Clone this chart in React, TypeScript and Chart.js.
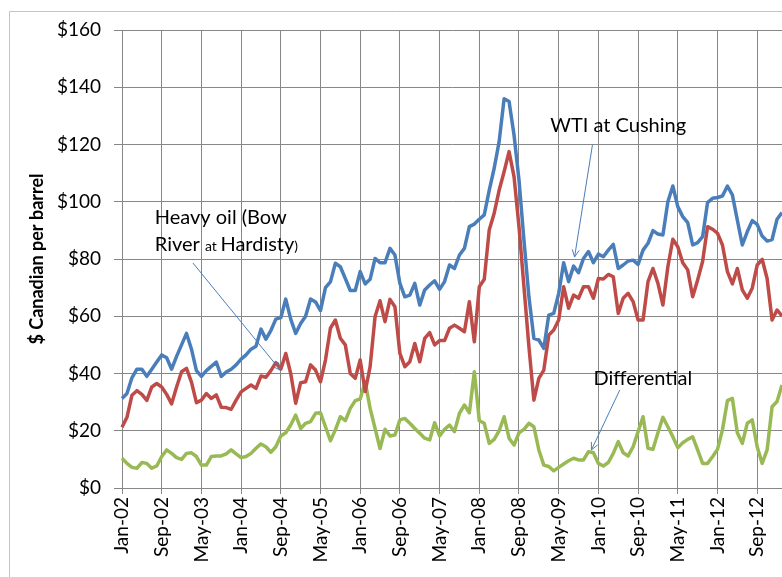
import React, { useEffect, useRef } from "react";
import { Chart, registerables } from "chart.js";

Chart.register(...registerables);

const MONTH_NAMES = ["Jan", "Feb", "Mar", "Apr", "May", "Jun", "Jul", "Aug", "Sep", "Oct", "Nov", "Dec"];
const FIRST_YEAR = 2002;
const MONTH_COUNT = 134;
const CATEGORIES = Array.from({ length: MONTH_COUNT }, (_, i) =>
  `${MONTH_NAMES[i % 12]}-${String((FIRST_YEAR + Math.floor(i / 12)) % 100).padStart(2, "0")}`
);

const TICK_LABELS = [
  "Jan-02", "Sep-02", "May-03", "Jan-04", "Sep-04", "May-05", "Jan-06", "Sep-06", "May-07",
  "Jan-08", "Sep-08", "May-09", "Jan-10", "Sep-10", "May-11", "Jan-12", "Sep-12",
];

const Y_TICKS = [0, 20, 40, 60, 80, 100, 120, 140, 160];

const WTI = [
  31.3, 33, 38.5, 41.5, 41.5, 39, 41.5, 44, 46.5, 45.5, 41.5, 46,
  50, 54, 48.5, 41, 39, 41, 42.5, 44, 39, 40.5, 41.5, 43,
  45, 46.5, 48.5, 49.5, 55.5, 52, 55, 59, 59.5, 66, 59, 54,
  57.5, 60, 66, 65, 62, 70, 72, 78.5, 77.3, 73.2, 69, 69,
  75.6, 71.3, 72.9, 80.2, 78.7, 78.7, 83.7, 81.4, 71.5, 66.8, 67.4, 71.5,
  63.9, 69.2, 70.9, 72.4, 69.4, 72.1, 77.9, 76.7, 81.4, 83.7, 91.3, 92.2,
  93.9, 95.4, 104, 111.7, 121, 136, 135, 123.3, 107.6, 86.6, 66.8, 52.3,
  51.7, 48.8, 60.4, 61, 68, 78.7, 72.1, 77.5, 75.2, 80.2, 82.6, 78.7,
  81.7, 80.8, 83.1, 85.1, 76.7, 77.9, 79.3, 79.6, 78.1, 83.1, 85.5, 89.9,
  88.7, 88.4, 100, 105.5, 98.3, 94.8, 92.7, 84.9, 85.7, 87.8, 99.7, 101.2,
  101.5, 102, 105.5, 102.4, 93.6, 84.9, 89.5, 93.4, 92.1, 88, 86.3, 86.8,
  93.9, 96.2,
];

const HEAVY_OIL = [
  21.2, 24.7, 32.4, 34, 32.7, 30.6, 35.3, 36.5, 35.3, 32.7, 29.4, 35.3,
  40.6, 41.8, 37, 29.8, 30.7, 33, 31.3, 32.5, 28.2, 28.1, 27.5, 30.7,
  33.6, 34.8, 36, 34.8, 39.1, 38.7, 41, 43.8, 41.5, 47, 40, 29.6,
  36.8, 37.1, 43, 41.2, 37.1, 44.7, 55.8, 58.7, 52.3, 50, 40, 38.3,
  44.7, 33.7, 42.4, 59.9, 65.4, 58.1, 65.9, 63.3, 47, 42.4, 44.1, 50.5,
  44.1, 52.3, 54.3, 50, 51.5, 51.5, 55.8, 56.9, 55.8, 54.6, 65.1, 51.1,
  70.3, 72.9, 90.1, 96, 104, 110.5, 117.5, 108.8, 91.3, 70.3, 49.4, 30.7,
  38.3, 41.2, 53.4, 55.2, 58.7, 70.3, 62.8, 67.4, 66.3, 70.3, 70.3, 66.3,
  73.2, 73, 74.6, 73.8, 61, 66.3, 68, 65.1, 58.7, 58.7, 72.1, 76.7,
  71.5, 63.9, 77.3, 86.9, 84.3, 78.7, 76.2, 66.8, 72.7, 79.1, 91.3, 90.4,
  89, 84.9, 75.6, 71.3, 76.7, 69.2, 66.3, 69.8, 77.9, 79.9, 73.2, 58.7,
  62.2, 60.1,
];

const DIFFERENTIAL = [
  10.4, 8.6, 7.2, 6.9, 8.9, 8.6, 6.9, 7.7, 11, 13.3, 12.1, 10.6,
  10, 12.1, 12.3, 11, 8, 8, 11, 11.2, 11.2, 11.9, 13.3, 11.9,
  10.6, 11, 12.1, 13.9, 15.4, 14.4, 12.5, 14.4, 18.2, 19.3, 22, 25.5,
  20.8, 22.6, 23.2, 26.1, 26.3, 21.4, 16.5, 20.3, 24.9, 23.5, 27.8, 30.5,
  31.1, 37.1, 27.8, 20.8, 13.8, 20.5, 18.2, 18.5, 23.8, 24.3, 22.6, 20.8,
  19.1, 17.4, 16.8, 22.8, 18.2, 20.5, 22, 19.7, 26.1, 29, 26.3, 40.6,
  23.5, 22.6, 15.6, 17, 20, 24.9, 17.4, 15, 19.3, 20.5, 22.6, 21.4,
  13.3, 8, 7.5, 6, 7.2, 8.4, 9.5, 10.4, 9.8, 9.8, 12.7, 12.3,
  8.6, 7.7, 8.9, 12.1, 16.2, 12.3, 11.2, 14.4, 19.7, 24.9, 13.9, 13.5,
  19.3, 24.7, 21.4, 17.9, 14.1, 15.8, 17, 17.9, 13.3, 8.6, 8.6, 10.9,
  13.5, 20.3, 30.5, 31.3, 19.3, 15.6, 22.6, 23.8, 14.4, 8.6, 13.3, 28.4,
  30.2, 36,
];

// Annotation anchors in data coordinates (month index, dollars)
const HEAVY_LABEL_AT = [6.6, 94.5];
const HEAVY_ARROW = [14.3, 78.6, 31.9, 41.2];
const WTI_LABEL_AT = [86.3, 126.5];
const WTI_ARROW = [94.8, 119.8, 91.2, 80.7];
const DIFF_LABEL_AT = [95.0, 38.1];
const DIFF_ARROW = [100.3, 34.2, 94.6, 13.3];

const FONT = "Lato, 'Open Sans', sans-serif";
const GRID = "#878787";
const ARROW_COLOR = "#4a7ebb";

function drawArrow(ctx: CanvasRenderingContext2D, x1: number, y1: number, x2: number, y2: number) {
  ctx.save();
  ctx.strokeStyle = ARROW_COLOR;
  ctx.lineWidth = 1;
  ctx.beginPath();
  ctx.moveTo(x1, y1);
  ctx.lineTo(x2, y2);
  const ang = Math.atan2(y2 - y1, x2 - x1);
  const len = 8;
  const spread = 0.45;
  ctx.moveTo(x2 - len * Math.cos(ang - spread), y2 - len * Math.sin(ang - spread));
  ctx.lineTo(x2, y2);
  ctx.lineTo(x2 - len * Math.cos(ang + spread), y2 - len * Math.sin(ang + spread));
  ctx.stroke();
  ctx.restore();
}

const annotationPlugin = {
  id: "oilAnnotations",
  beforeDraw(chart: any) {
    const { ctx } = chart;
    ctx.save();
    ctx.fillStyle = "#ffffff";
    ctx.fillRect(0, 0, chart.width, chart.height);
    ctx.strokeStyle = "#c4c4c4";
    ctx.lineWidth = 1;
    ctx.beginPath();
    ctx.moveTo(9.5, chart.height + 5);
    ctx.lineTo(9.5, 11.5);
    ctx.lineTo(chart.width + 5, 11.5);
    ctx.stroke();
    ctx.restore();
  },
  afterDatasetsDraw(chart: any) {
    const { ctx } = chart;
    const xs = chart.scales.x;
    const ys = chart.scales.y;
    const px = (i: number) => xs.getPixelForValue(i);
    const py = (v: number) => ys.getPixelForValue(v);
    ctx.save();
    ctx.fillStyle = "#000000";
    ctx.textBaseline = "middle";
    ctx.textAlign = "left";
    const big = `20px ${FONT}`;
    const small = `14px ${FONT}`;

    // Heavy oil label
    const x = px(HEAVY_LABEL_AT[0]);
    const y = py(HEAVY_LABEL_AT[1]);
    ctx.font = big;
    ctx.fillText("Heavy oil (Bow", x, y);
    const y2 = y + 27;
    const parts: [string, string][] = [
      ["River ", big],
      ["at ", small],
      ["Hardisty", big],
      [")", small],
    ];
    let cx = x;
    for (const [t, f] of parts) {
      ctx.font = f;
      ctx.textBaseline = "alphabetic";
      ctx.fillText(t, cx, y2 + 7);
      cx += ctx.measureText(t).width;
    }
    ctx.textBaseline = "middle";
    drawArrow(ctx, px(HEAVY_ARROW[0]), py(HEAVY_ARROW[1]), px(HEAVY_ARROW[2]), py(HEAVY_ARROW[3]));

    ctx.font = big;
    ctx.fillText("WTI at Cushing", px(WTI_LABEL_AT[0]), py(WTI_LABEL_AT[1]));
    drawArrow(ctx, px(WTI_ARROW[0]), py(WTI_ARROW[1]), px(WTI_ARROW[2]), py(WTI_ARROW[3]));

    ctx.fillText("Differential", px(DIFF_LABEL_AT[0]), py(DIFF_LABEL_AT[1]));
    drawArrow(ctx, px(DIFF_ARROW[0]), py(DIFF_ARROW[1]), px(DIFF_ARROW[2]), py(DIFF_ARROW[3]));
    ctx.restore();
  },
};

export default function App() {
  const canvasRef = useRef<HTMLCanvasElement | null>(null);

  useEffect(() => {
    if (!canvasRef.current) return;
    const isLabeled = (i: number) => TICK_LABELS.includes(CATEGORIES[i]);
    const line = (label: string, data: number[], color: string) => ({
      label,
      data,
      borderColor: color,
      backgroundColor: color,
      borderWidth: 3.5,
      pointRadius: 0,
      tension: 0,
      fill: false,
      borderJoinStyle: "round" as const,
    });
    const chart = new Chart(canvasRef.current, {
      type: "line",
      data: {
        labels: CATEGORIES,
        datasets: [
          line("WTI at Cushing", WTI, "#4a7ebb"),
          line("Heavy oil (Bow River at Hardisty)", HEAVY_OIL, "#be4b48"),
          line("Differential", DIFFERENTIAL, "#98b954"),
        ],
      },
      options: {
        responsive: false,
        animation: false,
        devicePixelRatio: 1,
        layout: { padding: { top: 30, left: 0, right: 0, bottom: 0 } },
        plugins: {
          legend: { display: false },
          tooltip: { enabled: false },
        },
        scales: {
          x: {
            type: "category",
            offset: false,
            afterFit: (s: any) => {
              s.height = 89;
              s.paddingLeft = 0;
              s.paddingRight = 0;
            },
            grid: {
              color: (c: any) => (isLabeled(c.index) ? GRID : "rgba(0,0,0,0)"),
              lineWidth: 1,
              tickLength: 6,
              drawTicks: true,
            },
            border: { display: true, color: GRID, width: 1 },
            ticks: {
              autoSkip: false,
              maxRotation: 90,
              minRotation: 90,
              padding: 3,
              color: "#000000",
              font: { family: FONT, size: 19 },
              callback: (_v: any, i: number) => (isLabeled(i) ? CATEGORIES[i] : ""),
            },
          },
          y: {
            min: 0,
            max: 160,
            afterFit: (s: any) => {
              s.width = 122;
            },
            afterBuildTicks: (s: any) => {
              s.ticks = Y_TICKS.map((v) => ({ value: v }));
            },
            grid: { color: GRID, lineWidth: 1, tickLength: 8 },
            border: { display: true, color: GRID, width: 1 },
            ticks: {
              padding: 13,
              color: "#000000",
              font: { family: FONT, size: 19 },
              callback: (v: any) => `$${v}`,
            },
            title: {
              display: true,
              text: "$ Canadian per barrel",
              color: "#000000",
              font: { family: FONT, size: 18, weight: "bold" },
              padding: { top: 26, bottom: 0 },
            },
          },
        },
      },
      plugins: [annotationPlugin],
    });
    return () => chart.destroy();
  }, []);

  return (
    <div style={{ position: "fixed", left: 0, top: 0, width: 782, height: 577, overflow: "hidden", background: "#fff" }}>
      <canvas ref={canvasRef} width={782} height={577} style={{ display: "block" }} />
    </div>
  );
}
